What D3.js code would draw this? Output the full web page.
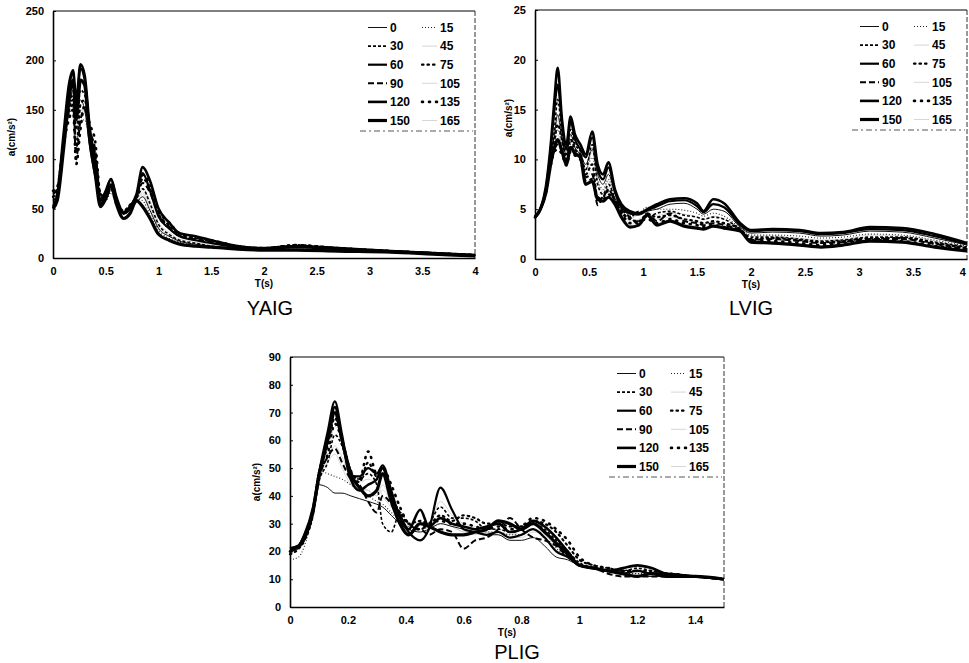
<!DOCTYPE html>
<html>
<head>
<meta charset="utf-8">
<script src="https://cdn.jsdelivr.net/npm/d3@7"></script>
<style>
  html, body { margin: 0; padding: 0; background: #fff; }
  svg { display: block; }
  .tick text { font-family: "Liberation Sans Narrow", "Liberation Sans", Arial, sans-serif; font-weight: bold; font-size: 11px; fill: #000; }
  .lbl { font-family: "Liberation Sans Narrow", "Liberation Sans", Arial, sans-serif; font-weight: bold; font-size: 10px; fill: #000; }
  .leg { font-family: "Liberation Sans", Arial, sans-serif; font-weight: bold; font-size: 12px; fill: #000; }
  .title { font-family: "Liberation Sans", Arial, sans-serif; font-size: 20px; fill: #000; }
</style>
</head>
<body>
<svg id="fig" width="969" height="663"></svg>
<script>
// Incidence angles (degrees) of the computed response spectra
const angles = ["0", "15", "30", "45", "60", "75", "90", "105", "120", "135", "150", "165"];

// ---------- YAIG station: periods (s) and spectral acceleration (cm/s²) ----------
const yaigT = [0, 0.04, 0.1, 0.15, 0.19, 0.22, 0.26, 0.3, 0.35, 0.4, 0.45, 0.5, 0.55, 0.6, 0.67, 0.73, 0.79, 0.85, 0.92, 1.0, 1.1, 1.2, 1.35, 1.5, 1.75, 2.0, 2.3, 2.7, 3.2, 3.6, 4.0];
const yaig0   = [52, 58, 108, 150, 170, 145, 160, 150, 110, 80, 55, 62, 72, 56, 45, 48, 56, 62, 48, 30, 22, 17, 14, 12, 10, 8, 9, 8, 6, 5, 3];
const yaig15  = [60, 64, 112, 145, 150, 120, 135, 140, 115, 90, 60, 58, 66, 54, 44, 50, 60, 58, 44, 28, 20, 16, 13, 11, 9, 8, 10, 9, 7, 5, 3];
const yaig30  = [58, 66, 118, 155, 165, 130, 170, 165, 120, 95, 62, 64, 74, 58, 47, 52, 60, 70, 55, 34, 24, 18, 15, 12, 10, 8, 11, 9, 7, 5, 3];
const yaig45  = [54, 60, 112, 150, 160, 128, 150, 148, 112, 85, 58, 60, 68, 55, 46, 50, 58, 66, 52, 32, 23, 17, 14, 12, 10, 8, 10, 8, 6, 5, 3];
const yaig60  = [50, 62, 120, 170, 188, 150, 192, 180, 125, 95, 55, 65, 80, 60, 45, 50, 62, 86, 68, 42, 30, 22, 18, 15, 11, 9, 11, 9, 7, 5, 3];
const yaig75  = [62, 68, 115, 150, 160, 110, 155, 160, 125, 105, 65, 62, 70, 57, 48, 54, 62, 80, 70, 45, 33, 23, 20, 17, 12, 10, 13, 10, 7, 5, 3];
const yaig90  = [65, 70, 118, 148, 155, 100, 140, 150, 128, 110, 62, 60, 72, 56, 45, 52, 62, 76, 66, 44, 32, 22, 19, 16, 11, 9, 12, 10, 7, 5, 3];
const yaig105 = [56, 62, 110, 145, 158, 125, 150, 148, 115, 88, 58, 60, 68, 54, 44, 50, 58, 70, 58, 36, 26, 19, 16, 13, 10, 8, 10, 9, 7, 5, 3];
const yaig120 = [52, 64, 125, 175, 190, 160, 196, 185, 130, 100, 58, 68, 80, 62, 46, 52, 64, 92, 78, 50, 36, 25, 22, 18, 12, 10, 12, 10, 7, 5, 3];
const yaig135 = [68, 72, 115, 140, 150, 95, 130, 155, 135, 118, 64, 62, 70, 55, 46, 52, 60, 84, 75, 48, 36, 25, 21, 18, 12, 10, 13, 10, 7, 5, 3];
const yaig150 = [50, 58, 110, 160, 180, 140, 180, 175, 118, 85, 52, 60, 74, 55, 40, 45, 58, 52, 40, 24, 18, 14, 12, 11, 9, 8, 8, 7, 6, 4, 2];
const yaig165 = [58, 64, 112, 148, 155, 120, 145, 150, 120, 90, 60, 60, 68, 55, 45, 50, 60, 64, 50, 30, 22, 17, 14, 12, 10, 8, 10, 8, 6, 5, 3];
const yaigXTicks = [0, 0.5, 1, 1.5, 2, 2.5, 3, 3.5, 4];
const yaigYTicks = [0, 50, 100, 150, 200, 250];

// ---------- LVIG station ----------
const lvigT = [0, 0.05, 0.1, 0.15, 0.18, 0.21, 0.25, 0.29, 0.33, 0.37, 0.42, 0.47, 0.53, 0.58, 0.63, 0.68, 0.74, 0.8, 0.88, 0.96, 1.04, 1.13, 1.25, 1.38, 1.5, 1.56, 1.65, 1.75, 1.9, 2.0, 2.2, 2.45, 2.65, 2.85, 3.1, 3.4, 3.7, 4.0];
const lvig0   = [4.2, 5.0, 6.8, 10.5, 12.5, 14.5, 12.0, 10.5, 12.5, 11.2, 10.5, 9.5, 11.0, 8.5, 7.5, 8.5, 6.5, 5.0, 4.5, 4.4, 4.8, 5.0, 5.5, 5.6, 5.0, 4.5, 5.0, 4.8, 3.2, 2.6, 2.7, 2.6, 2.3, 2.4, 2.8, 2.7, 2.1, 1.4];
const lvig15  = [4.2, 5.0, 6.7, 10.0, 11.5, 13.0, 11.5, 10.0, 11.5, 10.8, 10.2, 9.0, 10.2, 8.0, 7.0, 8.0, 6.2, 4.8, 4.3, 4.6, 5.2, 5.0, 5.0, 4.9, 4.6, 4.3, 4.6, 4.3, 3.1, 2.4, 2.4, 2.3, 2.1, 2.2, 2.5, 2.4, 1.9, 1.3];
const lvig30  = [4.2, 5.0, 6.9, 10.8, 13.0, 16.0, 12.5, 10.5, 13.0, 11.5, 10.8, 9.0, 11.5, 7.5, 6.5, 7.5, 6.0, 4.5, 4.2, 4.8, 4.2, 4.6, 4.8, 4.4, 4.2, 4.0, 4.2, 4.0, 3.0, 2.2, 2.2, 2.0, 1.8, 1.9, 2.2, 2.2, 1.7, 1.2];
const lvig45  = [4.2, 5.0, 6.8, 10.2, 12.0, 14.0, 11.8, 10.2, 12.0, 11.0, 10.4, 8.8, 10.8, 7.8, 6.8, 7.8, 6.0, 4.6, 4.0, 4.5, 4.6, 4.4, 4.6, 4.5, 4.2, 3.9, 4.3, 4.0, 3.0, 2.3, 2.3, 2.1, 1.9, 2.0, 2.4, 2.3, 1.8, 1.2];
const lvig60  = [4.2, 5.0, 7.0, 11.5, 15.0, 17.5, 13.5, 11.0, 13.8, 12.0, 11.0, 10.2, 12.2, 9.0, 8.0, 9.2, 6.8, 5.2, 4.6, 4.5, 4.9, 5.3, 5.8, 5.9, 5.3, 4.7, 5.5, 5.2, 3.4, 2.8, 2.9, 2.8, 2.5, 2.6, 3.0, 2.9, 2.3, 1.5];
const lvig75  = [4.2, 5.0, 6.8, 10.5, 12.0, 13.5, 12.0, 10.0, 12.0, 11.0, 10.5, 8.5, 9.5, 6.0, 6.2, 7.0, 5.8, 4.8, 4.0, 3.8, 4.5, 4.2, 4.4, 4.0, 3.8, 3.6, 3.8, 3.6, 3.0, 2.0, 2.1, 1.9, 1.7, 1.8, 2.1, 2.1, 1.6, 1.1];
const lvig90  = [4.2, 5.0, 6.7, 9.8, 11.0, 11.5, 10.8, 9.6, 11.0, 10.5, 10.2, 8.2, 8.5, 5.4, 6.3, 6.8, 6.0, 5.0, 4.2, 3.5, 4.6, 3.8, 4.6, 3.8, 3.6, 3.4, 3.6, 3.4, 2.9, 1.9, 2.0, 1.8, 1.6, 1.7, 2.0, 2.0, 1.5, 1.0];
const lvig105 = [4.2, 5.0, 6.7, 10.0, 11.5, 12.5, 11.2, 9.8, 11.2, 10.6, 10.0, 8.0, 9.0, 6.5, 6.5, 7.2, 5.8, 4.6, 3.8, 4.0, 4.4, 4.0, 4.2, 4.0, 3.7, 3.5, 3.7, 3.5, 2.9, 2.0, 2.0, 1.8, 1.6, 1.7, 2.0, 1.9, 1.5, 1.0];
const lvig120 = [4.2, 5.0, 7.2, 12.0, 16.0, 19.2, 14.0, 11.5, 14.3, 12.5, 11.5, 10.5, 12.8, 9.5, 8.5, 9.7, 7.0, 5.5, 4.8, 4.6, 5.0, 5.5, 6.0, 6.1, 5.6, 4.8, 6.0, 5.6, 3.6, 2.9, 3.0, 2.9, 2.6, 2.7, 3.2, 3.1, 2.5, 1.6];
const lvig135 = [4.2, 5.0, 6.6, 9.6, 10.8, 11.0, 10.5, 9.4, 10.8, 10.4, 10.0, 7.8, 8.0, 6.2, 6.0, 6.5, 5.6, 4.6, 3.6, 3.8, 4.0, 3.6, 4.0, 3.6, 3.4, 3.2, 3.4, 3.2, 2.8, 1.8, 1.8, 1.6, 1.4, 1.6, 1.9, 1.8, 1.3, 0.9];
const lvig150 = [4.2, 5.0, 6.6, 9.8, 11.2, 12.0, 10.8, 9.5, 11.2, 10.6, 10.2, 7.5, 7.8, 6.0, 5.8, 6.2, 5.5, 4.2, 3.2, 3.4, 4.4, 3.4, 3.8, 3.3, 3.1, 3.0, 3.3, 3.1, 2.8, 1.7, 1.6, 1.4, 1.2, 1.4, 1.8, 1.7, 1.2, 0.8];
const lvig165 = [4.2, 5.0, 6.6, 9.7, 11.0, 11.8, 10.6, 9.5, 11.0, 10.5, 10.0, 7.6, 8.2, 6.0, 6.0, 6.6, 5.6, 4.4, 3.5, 3.6, 4.2, 3.6, 3.9, 3.5, 3.3, 3.1, 3.4, 3.2, 2.8, 1.8, 1.7, 1.5, 1.3, 1.5, 1.9, 1.8, 1.3, 0.9];
const lvigXTicks = [0, 0.5, 1, 1.5, 2, 2.5, 3, 3.5, 4];
const lvigYTicks = [0, 5, 10, 15, 20, 25];

// ---------- PLIG station ----------
const pligT = [0, 0.03, 0.05, 0.08, 0.1, 0.13, 0.155, 0.18, 0.21, 0.24, 0.27, 0.3, 0.32, 0.35, 0.38, 0.41, 0.45, 0.48, 0.52, 0.56, 0.6, 0.64, 0.68, 0.72, 0.76, 0.8, 0.84, 0.88, 0.92, 0.96, 1.0, 1.05, 1.1, 1.15, 1.2, 1.25, 1.3, 1.4, 1.5];
const plig0   = [20, 21, 24, 33, 44, 43, 41, 41, 40, 39, 38, 37, 36, 33, 30, 28, 27, 28, 30, 29, 28, 27, 26, 26, 24, 24, 25, 22, 18, 17, 15, 14, 13, 12, 11, 11, 11, 11, 10];
const plig15  = [17, 18, 22, 35, 49, 48, 47, 46, 44, 42, 40, 38, 37, 34, 31, 29, 28, 29, 32, 30, 29, 28, 27, 27, 26, 26, 28, 25, 21, 18, 15, 14, 13, 12, 12, 12, 11, 11, 10];
const plig30  = [20, 22, 24, 33, 45, 52, 62, 58, 48, 46, 48, 44, 30, 27, 34, 30, 28, 30, 36, 32, 32, 31, 28, 28, 27, 28, 30, 28, 24, 20, 16, 14, 13, 13, 14, 13, 12, 11, 10];
const plig45  = [20, 22, 25, 34, 46, 55, 65, 60, 50, 45, 46, 44, 40, 36, 33, 30, 30, 30, 38, 33, 30, 29, 28, 28, 27, 26, 28, 26, 22, 18, 15, 14, 13, 12, 13, 12, 12, 11, 10];
const plig60  = [20, 22, 26, 35, 48, 63, 74, 62, 47, 47, 50, 48, 51, 42, 32, 27, 24, 28, 43, 35, 28, 27, 26, 27, 25, 26, 28, 25, 20, 18, 15, 14, 13, 12, 13, 12, 12, 11, 10];
const plig75  = [19, 21, 24, 34, 47, 58, 68, 60, 49, 45, 52, 47, 48, 40, 34, 30, 31, 30, 33, 31, 33, 32, 30, 30, 29, 29, 31, 30, 27, 22, 17, 15, 14, 13, 13, 13, 12, 11, 10];
const plig90  = [20, 22, 25, 34, 46, 54, 57, 52, 46, 44, 38, 34, 40, 37, 31, 28, 28, 26, 28, 27, 21, 24, 25, 28, 32, 28, 25, 24, 22, 18, 15, 14, 12, 11, 11, 11, 11, 11, 10];
const plig105 = [20, 22, 25, 34, 46, 52, 55, 50, 44, 42, 42, 40, 44, 38, 32, 29, 31, 28, 32, 29, 27, 26, 27, 26, 25, 25, 27, 26, 23, 19, 15, 14, 13, 12, 12, 12, 11, 11, 10];
const plig120 = [21, 22, 26, 36, 48, 60, 72, 60, 46, 42, 44, 46, 50, 40, 33, 28, 35, 29, 32, 30, 29, 28, 29, 30, 27, 28, 31, 29, 25, 20, 15, 14, 13, 14, 15, 14, 12, 11, 10];
const plig135 = [20, 22, 25, 35, 47, 55, 66, 60, 49, 46, 56, 48, 50, 44, 36, 30, 28, 30, 31, 30, 30, 29, 28, 29, 28, 29, 32, 31, 28, 24, 18, 15, 14, 13, 13, 12, 12, 11, 10];
const plig150 = [21, 22, 25, 35, 47, 60, 70, 60, 48, 43, 40, 42, 48, 38, 30, 26, 30, 29, 27, 26, 26, 27, 28, 31, 30, 28, 30, 27, 23, 19, 15, 14, 13, 12, 11, 12, 11, 11, 10];
const plig165 = [20, 22, 25, 34, 46, 52, 58, 54, 47, 43, 42, 40, 42, 38, 31, 28, 30, 28, 30, 29, 27, 27, 27, 27, 26, 26, 28, 26, 22, 18, 15, 14, 13, 12, 12, 12, 11, 11, 10];
const pligXTicks = [0, 0.2, 0.4, 0.6, 0.8, 1, 1.2, 1.4];
const pligYTicks = [0, 10, 20, 30, 40, 50, 60, 70, 80, 90];

// Line style for each angle (shared by curves and legend samples)
const faint = "#d6d6d6";
const lineStyle = {
  "0":   { w: 1.0, dash: null, color: "#111" },
  "15":  { w: 1.1, dash: "1,2", color: "#222" },
  "30":  { w: 1.6, dash: "3,2", color: "#000" },
  "45":  { w: 1.0, dash: null, color: faint },
  "60":  { w: 2.2, dash: null, color: "#000" },
  "75":  { w: 2.2, dash: "1.5,4", color: "#000", cap: "round" },
  "90":  { w: 2.0, dash: "6,3", color: "#000" },
  "105": { w: 1.0, dash: null, color: faint },
  "120": { w: 2.6, dash: null, color: "#000" },
  "135": { w: 2.6, dash: "1,6", color: "#000", cap: "round" },
  "150": { w: 3.2, dash: null, color: "#000" },
  "165": { w: 1.0, dash: null, color: faint }
};

const stations = [
  { name: "YAIG", T: yaigT, series: [yaig0, yaig15, yaig30, yaig45, yaig60, yaig75, yaig90, yaig105, yaig120, yaig135, yaig150, yaig165],
    xMax: 4, yMax: 250, xTicks: yaigXTicks, yTicks: yaigYTicks,
    box: { left: 53, right: 475, top: 11, bottom: 258 }, yLabelX: 15, yLabelY: 137, titleDx: 6, titleDy: 57 },
  { name: "LVIG", T: lvigT, series: [lvig0, lvig15, lvig30, lvig45, lvig60, lvig75, lvig90, lvig105, lvig120, lvig135, lvig150, lvig165],
    xMax: 4, yMax: 25, xTicks: lvigXTicks, yTicks: lvigYTicks,
    box: { left: 535, right: 967, top: 10, bottom: 259 }, yLabelX: 512, yLabelY: 118, titleDx: 0, titleDy: 56 },
  { name: "PLIG", T: pligT, series: [plig0, plig15, plig30, plig45, plig60, plig75, plig90, plig105, plig120, plig135, plig150, plig165],
    xMax: 1.5, yMax: 90, xTicks: pligXTicks, yTicks: pligYTicks,
    box: { left: 290, right: 724, top: 357, bottom: 607 }, yLabelX: 260, yLabelY: 482, titleDx: 10, titleDy: 52 }
];

const svg = d3.select("#fig");
const fmt = d3.format("~g");

function applyStyle(sel, st) {
  sel.attr("fill", "none")
     .attr("stroke", st.color)
     .attr("stroke-width", st.w)
     .attr("stroke-dasharray", st.dash)
     .attr("stroke-linecap", st.cap || "butt")
     .attr("stroke-linejoin", "round");
}

stations.forEach(s => {
  const b = s.box;
  const x = d3.scaleLinear().domain([0, s.xMax]).range([b.left, b.right]);
  const y = d3.scaleLinear().domain([0, s.yMax]).range([b.bottom, b.top]);
  const g = svg.append("g");

  // frame: top and right edges
  g.append("line").attr("x1", b.left).attr("x2", b.right).attr("y1", b.top).attr("y2", b.top)
    .attr("stroke", "#000").attr("stroke-width", 1.2);
  g.append("line").attr("x1", b.right).attr("x2", b.right).attr("y1", b.top).attr("y2", b.bottom)
    .attr("stroke", "#333").attr("stroke-width", 1).attr("stroke-dasharray", "5,2");

  // spectra: faint curves first so the heavy ones sit on top
  const line = d3.line().x((d, i) => x(s.T[i])).y(d => y(d)).curve(d3.curveMonotoneX);
  const idx = angles.map((a, i) => i);
  const order = idx.filter(i => lineStyle[angles[i]].color === faint)
    .concat(idx.filter(i => lineStyle[angles[i]].color !== faint));
  order.forEach(i => {
    g.append("path").datum(s.series[i]).attr("d", line).call(applyStyle, lineStyle[angles[i]]);
  });

  // axes
  const ax = g.append("g").attr("transform", `translate(0,${b.bottom})`)
    .call(d3.axisBottom(x).tickValues(s.xTicks).tickFormat(fmt).tickSize(0).tickPadding(9));
  ax.select(".domain").attr("stroke-width", 1.6);
  // keep a tick label that falls on the right page edge inside the page
  ax.selectAll(".tick text").filter(d => x(d) > 960).attr("text-anchor", "end").attr("dx", "-0.15em");
  const ay = g.append("g").attr("transform", `translate(${b.left},0)`)
    .call(d3.axisLeft(y).tickValues(s.yTicks).tickFormat(fmt).tickSizeInner(-3).tickSizeOuter(0).tickPadding(9));
  ay.select(".domain").attr("stroke-width", 1.6);

  // axis titles
  g.append("text").attr("class", "lbl").attr("x", (b.left + b.right) / 2).attr("y", b.bottom + 29)
    .attr("text-anchor", "middle").text("T(s)");
  g.append("text").attr("class", "lbl").attr("text-anchor", "middle")
    .attr("transform", `translate(${s.yLabelX},${s.yLabelY}) rotate(-90)`).text("a(cm/s²)");

  // station name
  g.append("text").attr("class", "title").attr("x", (b.left + b.right) / 2 + s.titleDx).attr("y", b.bottom + s.titleDy)
    .attr("text-anchor", "middle").text(s.name);

  // legend: two columns of angles
  const leg = g.append("g");
  angles.forEach((a, i) => {
    const col = i % 2, row = Math.floor(i / 2);
    const ry = b.top + 16.5 + row * 18.6;
    const x0 = col === 0 ? b.right - 107 : b.right - 53;
    const x1 = col === 0 ? b.right - 88 : b.right - 38;
    leg.append("line").attr("x1", x0).attr("x2", x1).attr("y1", ry).attr("y2", ry).call(applyStyle, lineStyle[a]);
    leg.append("text").attr("class", "leg").attr("x", x1 + 3).attr("y", ry).attr("dy", "0.36em").text(a);
  });
  leg.append("line").attr("x1", b.right - 115).attr("x2", b.right - 2)
    .attr("y1", b.top + 120).attr("y2", b.top + 120)
    .attr("stroke", "#555").attr("stroke-width", 1).attr("stroke-dasharray", "6,3,2,3");
});
</script>
</body>
</html>
